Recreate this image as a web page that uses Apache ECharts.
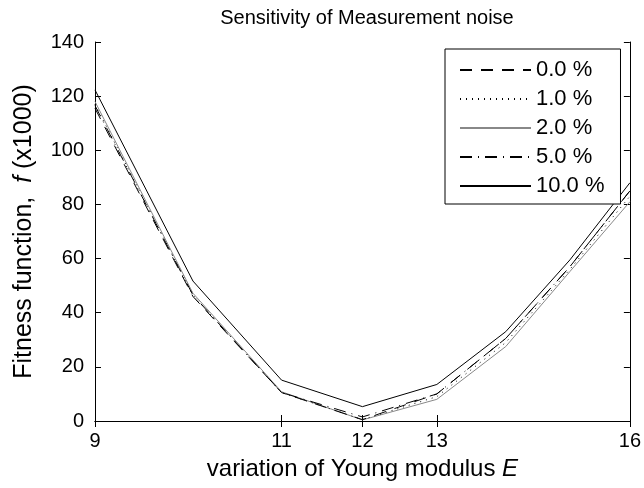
<!DOCTYPE html>
<html>
<head>
<meta charset="utf-8">
<script src="https://cdn.jsdelivr.net/npm/echarts@6/dist/echarts.min.js"></script>
<style>html,body{margin:0;padding:0;background:#fff}#c{width:644px;height:488px}</style>
</head>
<body>
<div id="c"></div>
<script>
const xValues = [9, 10, 11, 12, 13, 14, 15, 16];
const noise0 = [115.5, 46, 10.5, 0.5, 10, 30.5, 57, 85];
const noise1 = [117, 46.5, 10.5, 0.5, 9, 29, 56, 83];
const noise2 = [118, 47.2, 10.8, 0.4, 8, 27.5, 55.2, 81];
const noise5 = [116.5, 46.5, 10.5, 1.5, 10, 30.5, 57, 85];
const noise10 = [122.3, 51.7, 15.1, 5.3, 13.5, 33, 59.5, 88];
const seriesNames = ['0.0 %', '1.0 %', '2.0 %', '5.0 %', '10.0 %'];
const xTickValues = [9, 11, 12, 13, 16];

const FONT = 'Liberation Sans, Arial, sans-serif';
const pair = arr => xValues.map((x, i) => [x, arr[i]]);
const styles = [
  {color: '#000', type: [12, 9]},
  {color: '#000', type: [1, 5]},
  {color: '#888', type: 'solid'},
  {color: '#000', type: [12, 6, 1, 6]},
  {color: '#000', type: 'solid'}
];
const data = [noise0, noise1, noise2, noise5, noise10];

const chart = echarts.init(document.getElementById('c'));
const xCommon = {
  type: 'log', logBase: 10, min: 9, max: 16,
  axisLine: {show: true, lineStyle: {color: '#000', width: 1}},
  splitLine: {show: false}, minorTick: {show: false}
};
const yCommon = {
  type: 'value', min: 0, max: 140, interval: 20,
  axisLine: {show: true, lineStyle: {color: '#000', width: 1}},
  splitLine: {show: false}
};
chart.setOption({
  animation: false,
  backgroundColor: '#fff',
  title: {
    text: 'Sensitivity of Measurement noise',
    left: 362, top: 3, textAlign: 'center',
    textStyle: {fontFamily: FONT, fontSize: 20, fontWeight: 'normal', color: '#000'}
  },
  grid: {left: 95, right: 14, top: 42, bottom: 67},
  legend: {
    orient: 'vertical', left: 445, top: 49,
    padding: [10, 16, 7, 14],
    itemWidth: 71, itemHeight: 14, itemGap: 7,
    backgroundColor: '#fff', borderColor: '#000', borderWidth: 1,
    textStyle: {fontFamily: FONT, fontSize: 22, color: '#000', lineHeight: 20},
    data: seriesNames
  },
  xAxis: [
    Object.assign({}, xCommon, {
      position: 'bottom',
      name: 'variation of Young modulus {i|E}',
      nameLocation: 'middle', nameGap: 36,
      nameTextStyle: {fontFamily: FONT, fontSize: 24, color: '#000',
        rich: {i: {fontStyle: 'italic', fontFamily: FONT, fontSize: 24, color: '#000'}}},
      axisTick: {show: true, inside: true, length: 6, lineStyle: {color: '#000'}, customValues: xTickValues},
      axisLabel: {show: true, color: '#000', fontFamily: FONT, fontSize: 20, margin: 10,
        customValues: xTickValues, formatter: v => String(Math.round(v))}
    }),
    Object.assign({}, xCommon, {
      position: 'top',
      axisTick: {show: true, inside: true, length: 6, lineStyle: {color: '#000'}, customValues: xTickValues},
      axisLabel: {show: false}
    })
  ],
  yAxis: [
    Object.assign({}, yCommon, {
      position: 'left',
      name: 'Fitness function,  {i|f} (x1000)',
      nameLocation: 'middle', nameGap: 58, nameRotate: 90,
      nameTextStyle: {fontFamily: FONT, fontSize: 25, color: '#000',
        rich: {i: {fontStyle: 'italic', fontFamily: FONT, fontSize: 25, color: '#000'}}},
      axisTick: {show: true, inside: true, length: 6, lineStyle: {color: '#000'}},
      axisLabel: {show: true, color: '#000', fontFamily: FONT, fontSize: 20, margin: 11}
    }),
    Object.assign({}, yCommon, {
      position: 'right',
      axisTick: {show: true, inside: true, length: 6, lineStyle: {color: '#000'}},
      axisLabel: {show: false}
    })
  ],
  series: data.map((d, i) => ({
    name: seriesNames[i],
    type: 'line',
    data: pair(d),
    showSymbol: false,
    symbol: 'none',
    z: i === 2 ? 1 : 2,
    lineStyle: {color: styles[i].color, width: 1, type: styles[i].type},
    itemStyle: {color: 'rgba(0,0,0,0)', borderColor: 'rgba(0,0,0,0)', borderWidth: 0}
  }))
});
</script>
</body>
</html>
